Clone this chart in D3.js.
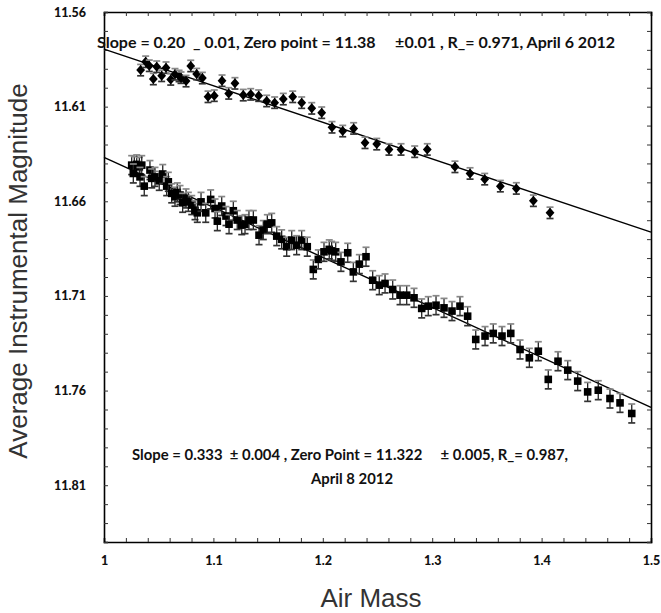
<!DOCTYPE html>
<html>
<head>
<meta charset="utf-8">
<script src="https://cdn.jsdelivr.net/npm/d3@7"></script>
<style>
  body { margin: 0; background: #fff; }
  svg { display: block; }
</style>
</head>
<body>
<div id="chart"></div>
<script>
// April 6 2012 (diamonds): air mass / magnitude
const airMassApr6 = [1.0335, 1.0381, 1.0414, 1.0451, 1.0482, 1.0527, 1.0567, 1.0610, 1.0649, 1.0686,
    1.0704, 1.0750, 1.0793, 1.0847, 1.0899, 1.0951, 1.1008, 1.1079, 1.1140, 1.1197,
    1.1273, 1.1341, 1.1414, 1.1487, 1.1560, 1.1639, 1.1725, 1.1807, 1.1899, 1.1990,
    1.2084, 1.2182, 1.2282, 1.2386, 1.2493, 1.2605, 1.2715, 1.2840, 1.2955, 1.3208,
    1.3346, 1.3480, 1.3623, 1.3769, 1.3925, 1.4077];
const magApr6 = [11.5907, 11.5863, 11.5884, 11.5954, 11.5889, 11.5937, 11.5894, 11.5956, 11.5929, 11.5938,
    11.5947, 11.5965, 11.5885, 11.5928, 11.5949, 11.6048, 11.6042, 11.5963, 11.6030, 11.5977,
    11.6039, 11.6035, 11.6042, 11.6070, 11.6079, 11.6060, 11.6048, 11.6079, 11.6109, 11.6132,
    11.6209, 11.6229, 11.6215, 11.6291, 11.6298, 11.6326, 11.6326, 11.6338, 11.6326, 11.6418,
    11.6453, 11.6483, 11.6520, 11.6532, 11.6597, 11.6661];
const errApr6 = 0.003;

// April 8 2012 (squares)
const airMassApr8 = [1.0253, 1.0277, 1.0299, 1.0323, 1.0345, 1.0268, 1.0329, 1.0368, 1.0420, 1.0436,
    1.0466, 1.0505, 1.0537, 1.0573, 1.0588, 1.0619, 1.0649, 1.0670, 1.0695, 1.0719,
    1.0750, 1.0771, 1.0802, 1.0832, 1.0853, 1.0887, 1.0930, 1.0975, 1.1015, 1.1036,
    1.1076, 1.1115, 1.1143, 1.1182, 1.1218, 1.1259, 1.1289, 1.1325, 1.1365, 1.1417,
    1.1456, 1.1493, 1.1533, 1.1579, 1.1624, 1.1670, 1.1716, 1.1761, 1.1807, 1.1858,
    1.1913, 1.1959, 1.2011, 1.2059, 1.2081, 1.2118, 1.2166, 1.2228, 1.2279, 1.2334,
    1.2395, 1.2456, 1.2516, 1.2569, 1.2639, 1.2706, 1.2767, 1.2834, 1.2904, 1.2964,
    1.3035, 1.3108, 1.3181, 1.3254, 1.3324, 1.3398, 1.3483, 1.3558, 1.3638, 1.3718,
    1.3803, 1.3888, 1.3970, 1.4061, 1.4150, 1.4239, 1.4330, 1.4421, 1.4518, 1.4625,
    1.4717, 1.4824];
const magApr8 = [11.6409, 11.6414, 11.6405, 11.6418, 11.6409, 11.6453, 11.6471, 11.6520, 11.6435, 11.6479,
    11.6471, 11.6492, 11.6456, 11.6520, 11.6497, 11.6558, 11.6576, 11.6553, 11.6567, 11.6608,
    11.6585, 11.6603, 11.6620, 11.6647, 11.6661, 11.6603, 11.6661, 11.6590, 11.6638, 11.6705,
    11.6625, 11.6678, 11.6721, 11.6650, 11.6699, 11.6726, 11.6721, 11.6699, 11.6699, 11.6779,
    11.6752, 11.6721, 11.6714, 11.6784, 11.6801, 11.6840, 11.6805, 11.6832, 11.6805, 11.6840,
    11.6960, 11.6907, 11.6867, 11.6854, 11.6862, 11.6867, 11.6920, 11.6872, 11.6973, 11.6932,
    11.6893, 11.7017, 11.7043, 11.7034, 11.7066, 11.7096, 11.7096, 11.7110, 11.7166, 11.7154,
    11.7149, 11.7163, 11.7180, 11.7154, 11.7207, 11.7330, 11.7312, 11.7298, 11.7312, 11.7298,
    11.7383, 11.7427, 11.7392, 11.7541, 11.7445, 11.7492, 11.7550, 11.7607, 11.7598, 11.7642,
    11.7665, 11.7721];
const errApr8 = 0.005;

// fit lines (value at air mass 1 and 1.5)
const fitX = [1, 1.5];
const fitApr6 = [11.5796, 11.6763];
const fitApr8 = [11.6368, 11.7689];

const xTickLabels = [1, 1.1, 1.2, 1.3, 1.4, 1.5];
const yTickLabels = [11.56, 11.61, 11.66, 11.71, 11.76, 11.81];

const labelApr6 = "Slope = 0.20  _ 0.01, Zero point = 11.38     \u00b10.01 , R_= 0.971, April 6 2012";
const labelApr8a = "Slope = 0.333  \u00b1 0.004 , Zero Point = 11.322     \u00b1 0.005, R_= 0.987,";
const labelApr8b = "April 8 2012";

const width = 661, height = 613;
const margin = {top: 12, right: 10, bottom: 71, left: 104};
const innerW = width - margin.left - margin.right;
const innerH = height - margin.top - margin.bottom;

const svg = d3.select("#chart").append("svg")
    .attr("width", width)
    .attr("height", height);

const g = svg.append("g")
    .attr("transform", `translate(${margin.left},${margin.top})`);

const x = d3.scaleLinear().domain([1, 1.5]).range([0, innerW]);
const y = d3.scaleLinear().domain([11.56, 11.84]).range([0, innerH]);

const minorX = d3.range(0, 26).map(i => 1 + i * 0.02);
const minorY = d3.range(0, 29).map(i => 11.56 + i * 0.01);

// inward ticks on all four sides
g.append("g").attr("transform", `translate(0,${innerH})`)
    .call(d3.axisBottom(x).tickValues(minorX).tickSize(-4).tickFormat(""));
g.append("g")
    .call(d3.axisTop(x).tickValues(minorX).tickSize(-4).tickFormat(""));
g.append("g")
    .call(d3.axisLeft(y).tickValues(minorY).tickSize(-4).tickFormat(""));
g.append("g").attr("transform", `translate(${innerW},0)`)
    .call(d3.axisRight(y).tickValues(minorY).tickSize(-4).tickFormat(""));

g.selectAll(".domain").attr("stroke", "#000").attr("stroke-width", 1.6);
g.selectAll(".tick line").attr("stroke", "#333").attr("stroke-width", 1);

// tick labels
const xLab = g.append("g").attr("transform", `translate(0,${innerH})`)
    .call(d3.axisBottom(x).tickValues(xTickLabels).tickSize(0).tickPadding(14).tickFormat(d3.format("")));
const yLab = g.append("g")
    .call(d3.axisLeft(y).tickValues(yTickLabels).tickSize(0).tickPadding(18).tickFormat(d3.format(".2f")));
[xLab, yLab].forEach(a => {
    a.select(".domain").remove();
    a.selectAll("text")
        .attr("fill", "#111")
        .style("font-family", "Lato, 'Open Sans', sans-serif")
        .style("font-weight", "900")
        .style("font-size", "12.5px");
});

// fit lines
const line = d3.line().x(d => x(d[0])).y(d => y(d[1]));
[fitApr6, fitApr8].forEach(f => {
    g.append("path")
        .datum(fitX.map((v, i) => [v, f[i]]))
        .attr("d", line)
        .attr("fill", "none")
        .attr("stroke", "#000")
        .attr("stroke-width", 1.4);
});

// error bars + markers
function drawSeries(xs, ys, err, shape) {
    const data = xs.map((v, i) => ({x: v, y: ys[i]}));
    const grp = g.append("g").selectAll("g")
        .data(data).join("g")
        .attr("transform", d => `translate(${x(d.x)},${y(d.y)})`);
    grp.append("line")
        .attr("y1", d => y(d.y - err) - y(d.y))
        .attr("y2", d => y(d.y + err) - y(d.y))
        .attr("stroke", "#222").attr("stroke-width", 1.3);
    grp.append("line")
        .attr("x1", -3.5).attr("x2", 3.5)
        .attr("y1", d => y(d.y - err) - y(d.y))
        .attr("y2", d => y(d.y - err) - y(d.y))
        .attr("stroke", "#888").attr("stroke-width", 1.7);
    grp.append("line")
        .attr("x1", -3.5).attr("x2", 3.5)
        .attr("y1", d => y(d.y + err) - y(d.y))
        .attr("y2", d => y(d.y + err) - y(d.y))
        .attr("stroke", "#333").attr("stroke-width", 1.7);
    if (shape === "diamond") {
        grp.append("path")
            .attr("d", "M0,-5L4.4,0L0,5L-4.4,0Z")
            .attr("fill", "#000");
    } else {
        grp.append("rect")
            .attr("x", -3.8).attr("y", -3.8)
            .attr("width", 7.6).attr("height", 7.6)
            .attr("fill", "#000");
    }
}
drawSeries(airMassApr6, magApr6, errApr6, "diamond");
drawSeries(airMassApr8, magApr8, errApr8, "square");

// annotations
const annFont = "Lato, 'Open Sans', sans-serif";
svg.append("text")
    .attr("x", 97).attr("y", 48)
    .attr("textLength", 518).attr("lengthAdjust", "spacingAndGlyphs")
    .style("white-space", "pre")
    .style("font-family", annFont).style("font-weight", "bold").style("font-size", "16px")
    .attr("fill", "#111")
    .text(labelApr6);
svg.append("text")
    .attr("x", 132).attr("y", 460)
    .attr("textLength", 436).attr("lengthAdjust", "spacingAndGlyphs")
    .style("white-space", "pre")
    .style("font-family", annFont).style("font-weight", "bold").style("font-size", "16px")
    .attr("fill", "#111")
    .text(labelApr8a);
svg.append("text")
    .attr("x", 311).attr("y", 484)
    .attr("textLength", 82).attr("lengthAdjust", "spacingAndGlyphs")
    .style("font-family", annFont).style("font-weight", "bold").style("font-size", "16px")
    .attr("fill", "#111")
    .text(labelApr8b);

// axis titles
svg.append("text")
    .attr("x", 371).attr("y", 607)
    .attr("text-anchor", "middle")
    .style("font-family", "'Liberation Sans', Arial, sans-serif")
    .style("font-size", "26px")
    .attr("fill", "#333")
    .text("Air Mass");
svg.append("text")
    .attr("transform", "translate(27,271) rotate(-90)")
    .attr("text-anchor", "middle")
    .style("font-family", "'Liberation Sans', Arial, sans-serif")
    .style("font-size", "26px")
    .attr("fill", "#333")
    .text("Average Instrumental Magnitude");
</script>
</body>
</html>
